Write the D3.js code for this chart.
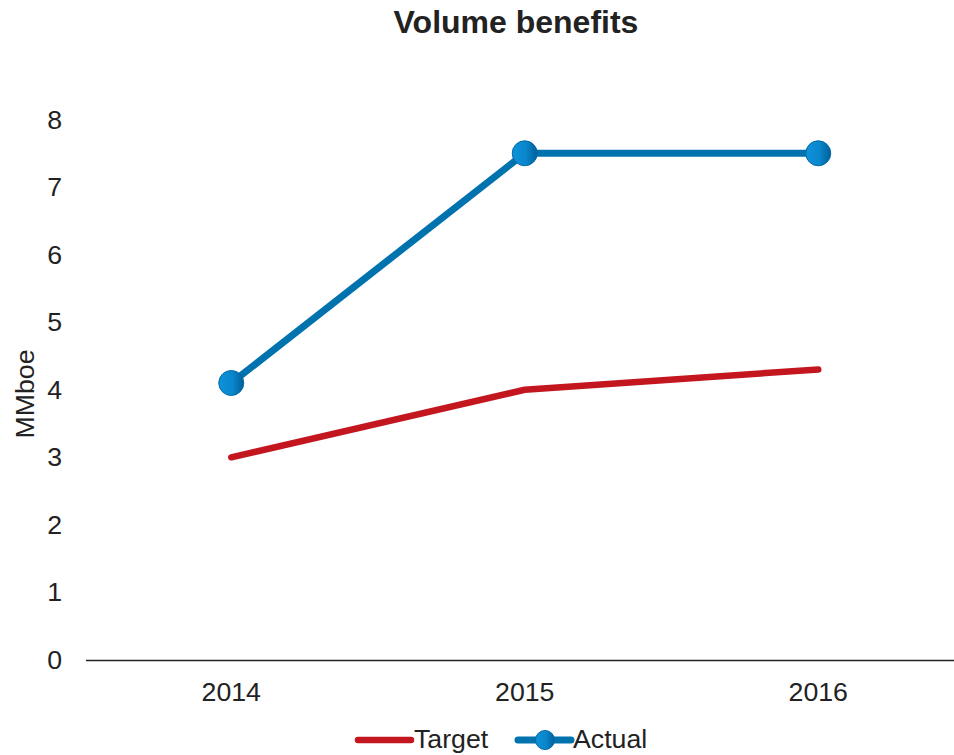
<!DOCTYPE html>
<html>
<head>
<meta charset="utf-8">
<script src="https://cdn.jsdelivr.net/npm/d3@7"></script>
<style>
  html, body { margin: 0; padding: 0; background: #fff; }
  svg { display: block; font-family: "Liberation Sans", Arial, sans-serif; }
</style>
</head>
<body>
<svg id="chart" width="954" height="755"></svg>
<script>
// Volume benefits data (MMboe)
const years = ["2014", "2015", "2016"];
const targetValues = [3.0, 4.0, 4.3];
const actualValues = [4.1, 7.5, 7.5];
const yTicks = [0, 1, 2, 3, 4, 5, 6, 7, 8];

const svg = d3.select("#chart");
const FONT = "Liberation Sans, Arial, sans-serif";
const LABEL_SIZE = 26.7;

const x = d3.scaleBand().domain(years).range([84.5, 965]);
const y = d3.scaleLinear().domain([0, 8]).range([660, 119.5]);
const cx = d => x(d) + x.bandwidth() / 2;

// gradient for the marker fill
const defs = svg.append("defs");
const grad = defs.append("linearGradient").attr("id", "markerGrad")
  .attr("x1", "0%").attr("x2", "100%").attr("y1", "0%").attr("y2", "0%");
grad.append("stop").attr("offset", "0%").attr("stop-color", "#0d93db");
grad.append("stop").attr("offset", "55%").attr("stop-color", "#0a86cc");
grad.append("stop").attr("offset", "100%").attr("stop-color", "#005f99");

// title
svg.append("text")
  .attr("x", 516).attr("y", 33)
  .attr("text-anchor", "middle")
  .attr("font-size", 32).attr("font-weight", "bold").attr("fill", "#222")
  .text("Volume benefits");

// y axis labels (no axis line)
const yAxis = d3.axisLeft(y).tickValues(yTicks).tickSize(0).tickPadding(0).tickFormat(d3.format("d"));
const yg = svg.append("g").attr("transform", "translate(62,0)").call(yAxis);
yg.select(".domain").remove();
yg.selectAll("text").attr("font-size", LABEL_SIZE).attr("fill", "#222").attr("font-family", FONT);

// y axis title
svg.append("text")
  .attr("transform", "translate(34,394) rotate(-90)")
  .attr("text-anchor", "middle")
  .attr("font-size", LABEL_SIZE).attr("fill", "#222")
  .text("MMboe");

// x axis baseline and labels
const xAxis = d3.axisBottom(x).tickSize(0).tickPadding(22);
const xg = svg.append("g").attr("transform", `translate(0,${y(0)})`).call(xAxis);
xg.select(".domain").remove();
xg.append("line").attr("x1", 86).attr("x2", 954).attr("y1", 0.5).attr("y2", 0.5)
  .attr("stroke", "#222").attr("stroke-width", 1.3);
xg.selectAll("text").attr("font-size", LABEL_SIZE).attr("fill", "#222").attr("font-family", FONT);

const line = d3.line().x(d => cx(d.year)).y(d => y(d.v));

const targetData = years.map((yr, i) => ({ year: yr, v: targetValues[i] }));
const actualData = years.map((yr, i) => ({ year: yr, v: actualValues[i] }));

svg.append("path").datum(targetData)
  .attr("d", line).attr("fill", "none")
  .attr("stroke", "#c3161f").attr("stroke-width", 6.5)
  .attr("stroke-linecap", "round").attr("stroke-linejoin", "round");

svg.append("path").datum(actualData)
  .attr("d", line).attr("fill", "none")
  .attr("stroke", "#0072ae").attr("stroke-width", 7)
  .attr("stroke-linejoin", "round");

svg.selectAll("circle.actual").data(actualData).join("circle")
  .attr("class", "actual")
  .attr("cx", d => cx(d.year)).attr("cy", d => y(d.v)).attr("r", 12.5)
  .attr("fill", "url(#markerGrad)")
  .attr("stroke", "#0068a3").attr("stroke-width", 1);

// legend
const lg = svg.append("g").attr("transform", "translate(0,740)");
lg.append("line").attr("x1", 358).attr("x2", 411).attr("y1", 0).attr("y2", 0)
  .attr("stroke", "#c3161f").attr("stroke-width", 6.5).attr("stroke-linecap", "round");
lg.append("text").attr("x", 414).attr("y", 8).attr("font-size", LABEL_SIZE).attr("fill", "#222").text("Target");
lg.append("line").attr("x1", 518).attr("x2", 571).attr("y1", 0).attr("y2", 0)
  .attr("stroke", "#0072ae").attr("stroke-width", 7).attr("stroke-linecap", "round");
lg.append("circle").attr("cx", 545).attr("cy", 0).attr("r", 9.5)
  .attr("fill", "url(#markerGrad)").attr("stroke", "#0068a3").attr("stroke-width", 1);
lg.append("text").attr("x", 573).attr("y", 8).attr("font-size", LABEL_SIZE).attr("fill", "#222").text("Actual");
</script>
</body>
</html>
